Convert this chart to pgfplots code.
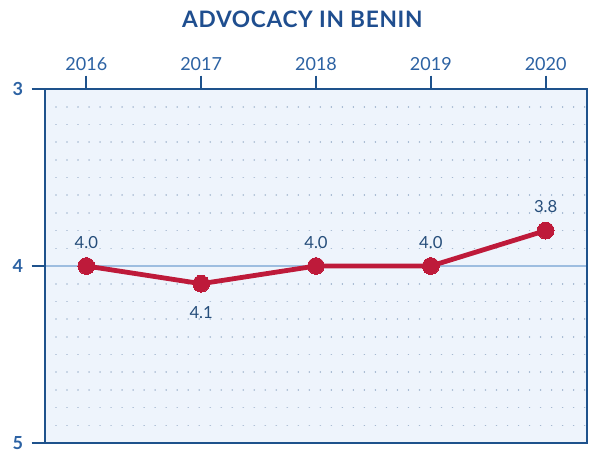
\documentclass[border=0pt]{standalone}
\usepackage{fontspec}
\setmainfont{Lato}
\usepackage{pgfplots}
\pgfplotsset{compat=1.18}
\definecolor{titleblue}{RGB}{31,78,143}
\definecolor{tickblue}{RGB}{44,98,163}
\definecolor{labelblue}{RGB}{37,77,122}
\definecolor{framecol}{RGB}{30,82,140}
\definecolor{bgblue}{RGB}{238,244,252}
\definecolor{gridline}{RGB}{157,189,224}
\definecolor{dotcol}{RGB}{165,184,208}
\definecolor{linered}{RGB}{190,26,58}

\begin{document}
\begin{tikzpicture}
\begin{axis}[
  name=ax,
  scale only axis,
  width=406.5pt, height=265.5pt,
  xmin=2015.64, xmax=2020.36,
  ymin=3, ymax=5,
  y dir=reverse,
  axis background/.style={fill=bgblue},
  axis line style={draw=framecol, line width=1.5pt},
  xtick={2016,2017,2018,2019,2020},
  ytick={3,4,5},
  minor y tick num=9,
  xtick pos=top, xticklabel pos=top,
  ytick pos=left,
  tick align=outside,
  major tick length=10pt,
  minor tick length=0pt,
  tick style={draw=framecol, line width=1.5pt},
  x tick label style={font=\fontsize{13.5}{15}\selectfont, text=tickblue, /pgf/number format/1000 sep={}},
  y tick label style={font=\fontsize{13.5}{15}\selectfont\bfseries, text=tickblue, xshift=-3pt},
  /pgf/number format/assume math mode=true,
  ymajorgrids, yminorgrids,
  major grid style={draw=gridline, line width=1.5pt},
  minor grid style={draw=dotcol, line width=1.2pt, dash pattern=on 0.01pt off 8.25pt, line cap=round},
  clip=false,
]
\addplot[draw=linered, line width=3.6pt, mark=*, mark size=6.3pt,
  mark options={fill=linered, draw=linered, line width=0pt}]
  coordinates {(2016,4.0) (2017,4.1) (2018,4.0) (2019,4.0) (2020,3.8)};
\addplot[draw=none, point meta=explicit symbolic, nodes near coords,
  nodes near coords style={anchor=south, inner sep=0pt, yshift=13pt,
    font=\fontsize{12.5}{14}\selectfont, text=labelblue}]
  coordinates {(2016,4.0)[4.0] (2018,4.0)[4.0] (2019,4.0)[4.0] (2020,3.8)[3.8]};
\addplot[draw=none, point meta=explicit symbolic, nodes near coords,
  nodes near coords style={anchor=north, inner sep=0pt, yshift=-17pt,
    font=\fontsize{12.5}{14}\selectfont, text=labelblue}]
  coordinates {(2017,4.1)[4.1]};
\end{axis}
\node[font=\fontsize{17}{19}\selectfont\bfseries\addfontfeature{LetterSpace=3}, text=titleblue]
  at ([xshift=193pt, yshift=52.5pt]ax.north west) {ADVOCACY IN BENIN};
\pgfresetboundingbox
\path[use as bounding box] ([xshift=-33.75pt, yshift=-6pt]ax.south west)
  rectangle ([xshift=3.75pt, yshift=66.75pt]ax.north east);
\end{tikzpicture}
\end{document}
